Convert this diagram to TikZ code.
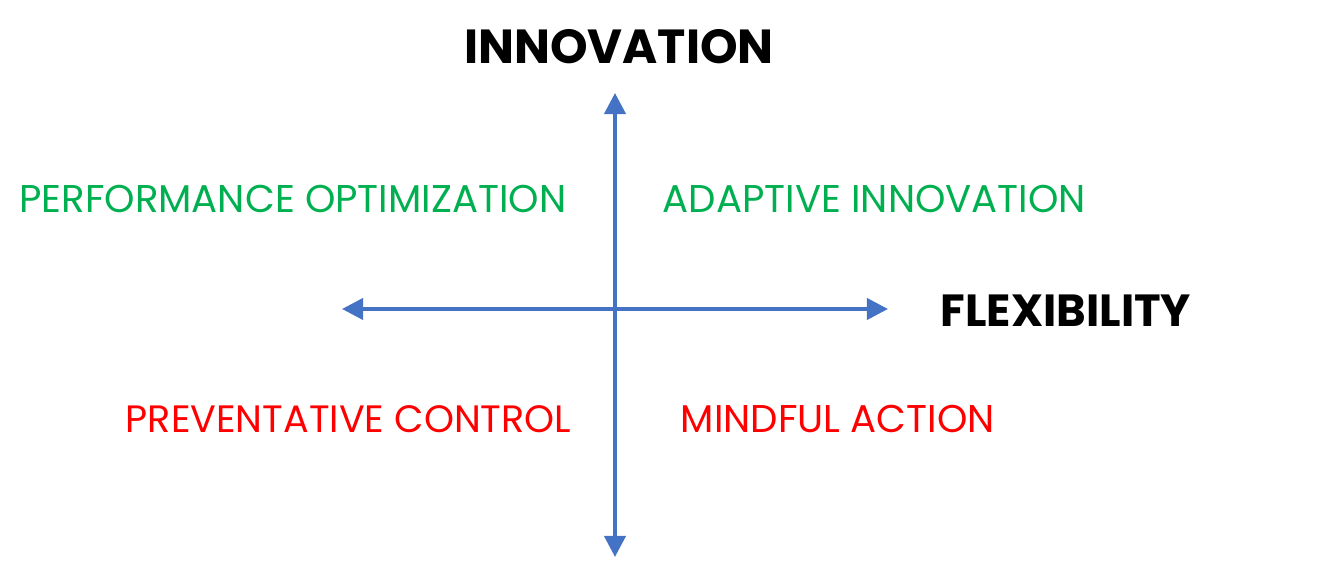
\documentclass[tikz,border=0pt]{standalone}
\usepackage{fontspec}
\setmainfont{Poppins}
\usepackage{tikz}
\usetikzlibrary{arrows.meta}
\definecolor{axisblue}{HTML}{4472C4}
\definecolor{quadgreen}{HTML}{00B050}
\definecolor{quadred}{HTML}{FF0000}

\begin{document}
\begin{tikzpicture}[x=0.01cm,y=-0.01cm,
    axis/.style={axisblue,line width=1.1pt,{Triangle[width=6pt,length=6pt]}-{Triangle[width=6pt,length=6pt]}},
    title/.style={inner sep=0pt,font=\fontsize{13.6}{16}\selectfont\bfseries},
    quad/.style={inner sep=0pt,font=\fontsize{11}{13}\selectfont}]
    \useasboundingbox (0,0) rectangle (1332,574);

    \coordinate (top) at (615,93);
    \coordinate (bottom) at (615,557);
    \coordinate (left) at (342,309);
    \coordinate (right) at (888,309);
    \draw[axis] (bottom) -- (top);
    \draw[axis] (left) -- (right);

    \node[title] (innov) at (619,47) {INNOVATION};
    \node[title,anchor=west,font=\fontsize{12.8}{15}\selectfont\bfseries] (flex) at (940,311) {FLEXIBILITY};

    \node[quad,quadgreen,anchor=east] (perf) at (567,199) {PERFORMANCE OPTIMIZATION};
    \node[quad,quadgreen,anchor=west] (adapt) at (662,199) {ADAPTIVE INNOVATION};
    \node[quad,quadred,anchor=east,font=\fontsize{10.85}{13}\selectfont] (prev) at (572,419) {PREVENTATIVE CONTROL};
    \node[quad,quadred,anchor=west] (mind) at (680,419) {MINDFUL ACTION};
\end{tikzpicture}
\end{document}
